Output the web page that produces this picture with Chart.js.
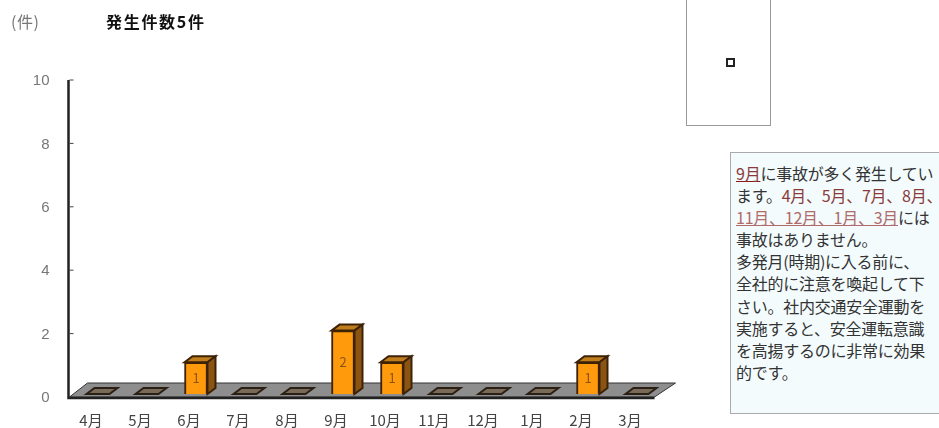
<!DOCTYPE html>
<html lang="ja">
<head>
<meta charset="UTF-8">
<title>発生件数</title>
<script src="https://cdn.jsdelivr.net/npm/chart.js"></script>
<style>
  html, body { margin: 0; padding: 0; background: #fff; overflow: hidden; }
  body { width: 939px; height: 428px; position: relative; font-family: "Noto Sans CJK JP", sans-serif; }
  #chart { position: absolute; left: 0; top: 0; }
  .unit { position: absolute; left: 11px; top: 11px; font-size: 16px; line-height: 20px; color: #777; letter-spacing: 0.5px; }
  .title { position: absolute; left: 106px; top: 10px; font-size: 16px; line-height: 22px; font-weight: bold; color: #111; letter-spacing: 1.7px; }
  .legend { position: absolute; left: 686px; top: -2px; width: 83px; height: 126px; border: 1.5px solid #999; background: #fff; }
  .legend i { position: absolute; left: 39px; top: 59px; width: 5px; height: 5px; border: 2px solid #222; background: #fff; }
  .note { position: absolute; left: 730px; top: 152px; width: 215px; height: 262px; box-sizing: border-box; border: 1px solid #aaa; background: #f3fbfd; padding: 9px 0 0 5px; font-size: 16px; line-height: 22px; color: #333; white-space: nowrap; letter-spacing: -0.25px; }
  .note span { display: block; height: 22.1px; }
  .note b { font-weight: normal; color: #8a3a3a; }
  .note u { color: #b06a6a; text-decoration-color: #b06a6a; }
  .note u.first { color: #8a3a3a; text-decoration-color: #8a1a1a; }
</style>
</head>
<body>
<canvas id="chart" width="939" height="428"></canvas>
<div class="unit">(件)</div>
<div class="title">発生件数5件</div>
<div class="legend"><i></i></div>
<div class="note"><span><u class="first">9月</u>に事故が多く発生してい</span><span>ます。<b>4月、5月、7月、8月、</b></span><span><u>11月、12月、1月、3月</u>には</span><span>事故はありません。</span><span>多発月(時期)に入る前に、</span><span>全社的に注意を喚起して下</span><span>さい。社内交通安全運動を</span><span>実施すると、安全運転意識</span><span>を高揚するのに非常に効果</span><span>的です。</span></div>

<script>
const months = ['4月', '5月', '6月', '7月', '8月', '9月', '10月', '11月', '12月', '1月', '2月', '3月'];
const counts = [0, 0, 1, 0, 0, 2, 1, 0, 0, 0, 1, 0];
const yMax = 10;
const yStep = 2;

// fake 3D look: bars are pushed back onto a grey floor
const shiftX = 7, shiftY = -3, depthX = 8, depthY = -6;

function poly(ctx, pts, fill, stroke, lw) {
  ctx.beginPath();
  pts.forEach((p, i) => i ? ctx.lineTo(p[0], p[1]) : ctx.moveTo(p[0], p[1]));
  ctx.closePath();
  ctx.fillStyle = fill;
  ctx.fill();
  if (stroke) {
    ctx.strokeStyle = stroke;
    ctx.lineWidth = lw || 1;
    ctx.stroke();
  }
}

const fake3d = {
  id: 'fake3d',
  beforeDatasetsDraw(chart) {
    const { ctx, chartArea: a } = chart;
    // floor
    poly(ctx, [[a.left + 3, a.bottom], [a.left + 21, a.bottom - 14], [a.right + 21, a.bottom - 14], [a.right, a.bottom]], '#8e8e8e', '#333', 1);
    // tiles for the zero months
    const meta = chart.getDatasetMeta(0);
    meta.data.forEach((bar, i) => {
      if (counts[i] !== 0) return;
      const l = bar.x + shiftX - bar.width / 2, r = l + bar.width, y = a.bottom + shiftY;
      poly(ctx, [[l, y], [l + depthX, y + depthY], [r + depthX, y + depthY], [r, y]], '#7a6a58', '#2b2015', 2);
    });
  },
  beforeDatasetDraw(chart) {
    chart.ctx.save();
    chart.ctx.translate(shiftX, shiftY);
  },
  afterDatasetDraw(chart) {
    chart.ctx.restore();
  },
  afterDatasetsDraw(chart) {
    const { ctx, chartArea: a, scales } = chart;
    const meta = chart.getDatasetMeta(0);
    meta.data.forEach((bar, i) => {
      if (counts[i] === 0) return;
      const l = bar.x + shiftX - bar.width / 2, r = l + bar.width;
      const t = bar.y + shiftY, b = bar.base + shiftY;
      poly(ctx, [[l, t], [l + depthX, t + depthY], [r + depthX, t + depthY], [r, t]], '#c07d1c', '#3e2206', 2);
      poly(ctx, [[r, t], [r + depthX, t + depthY], [r + depthX, b + depthY], [r, b]], '#8a5412', '#3e2206', 2);
      ctx.fillStyle = '#8a5412';
      ctx.font = '13px "Noto Sans CJK JP", sans-serif';
      ctx.textAlign = 'center';
      ctx.textBaseline = 'middle';
      ctx.fillText(counts[i], l + bar.width / 2, (t + b) / 2);
    });
    // axes go over the floor
    ctx.strokeStyle = '#222';
    ctx.lineWidth = 2.5;
    ctx.beginPath();
    ctx.moveTo(a.left + 2, a.top);
    ctx.lineTo(a.left + 2, a.bottom + 1);
    ctx.lineTo(a.right, a.bottom + 1);
    ctx.stroke();
    ctx.lineWidth = 1;
    ctx.strokeStyle = '#444';
    scales.y.ticks.forEach(tk => {
      const y = scales.y.getPixelForValue(tk.value);
      if (tk.value === 0) return;
      ctx.beginPath();
      ctx.moveTo(a.left + 3, y);
      ctx.lineTo(a.left + 7, y);
      ctx.stroke();
    });
  }
};

new Chart(document.getElementById('chart'), {
  type: 'bar',
  data: {
    labels: months,
    datasets: [{
      data: counts,
      backgroundColor: '#ff9a0c',
      borderColor: '#3e2206',
      borderWidth: 2,
      barThickness: 23
    }]
  },
  options: {
    responsive: false,
    animation: false,
    layout: { padding: { top: 80, right: 284.5, left: 0, bottom: 0 } },
    plugins: { legend: { display: false }, tooltip: { enabled: false }, title: { display: false } },
    scales: {
      x: {
        afterFit(s) { s.height = 31; },
        border: { display: false },
        grid: { display: false },
        ticks: { color: '#444', padding: 6, maxRotation: 0, autoSkip: false, font: { size: 15, family: '"Noto Sans CJK JP", sans-serif' } }
      },
      y: {
        min: 0,
        max: yMax,
        afterFit(s) { s.width = 66.5; },
        border: { display: false },
        grid: { display: false },
        ticks: { stepSize: yStep, color: '#777', padding: 9, labelOffset: 1, font: { size: 15, family: '"Liberation Sans", sans-serif' } }
      }
    }
  },
  plugins: [fake3d]
});
</script>
</body>
</html>
